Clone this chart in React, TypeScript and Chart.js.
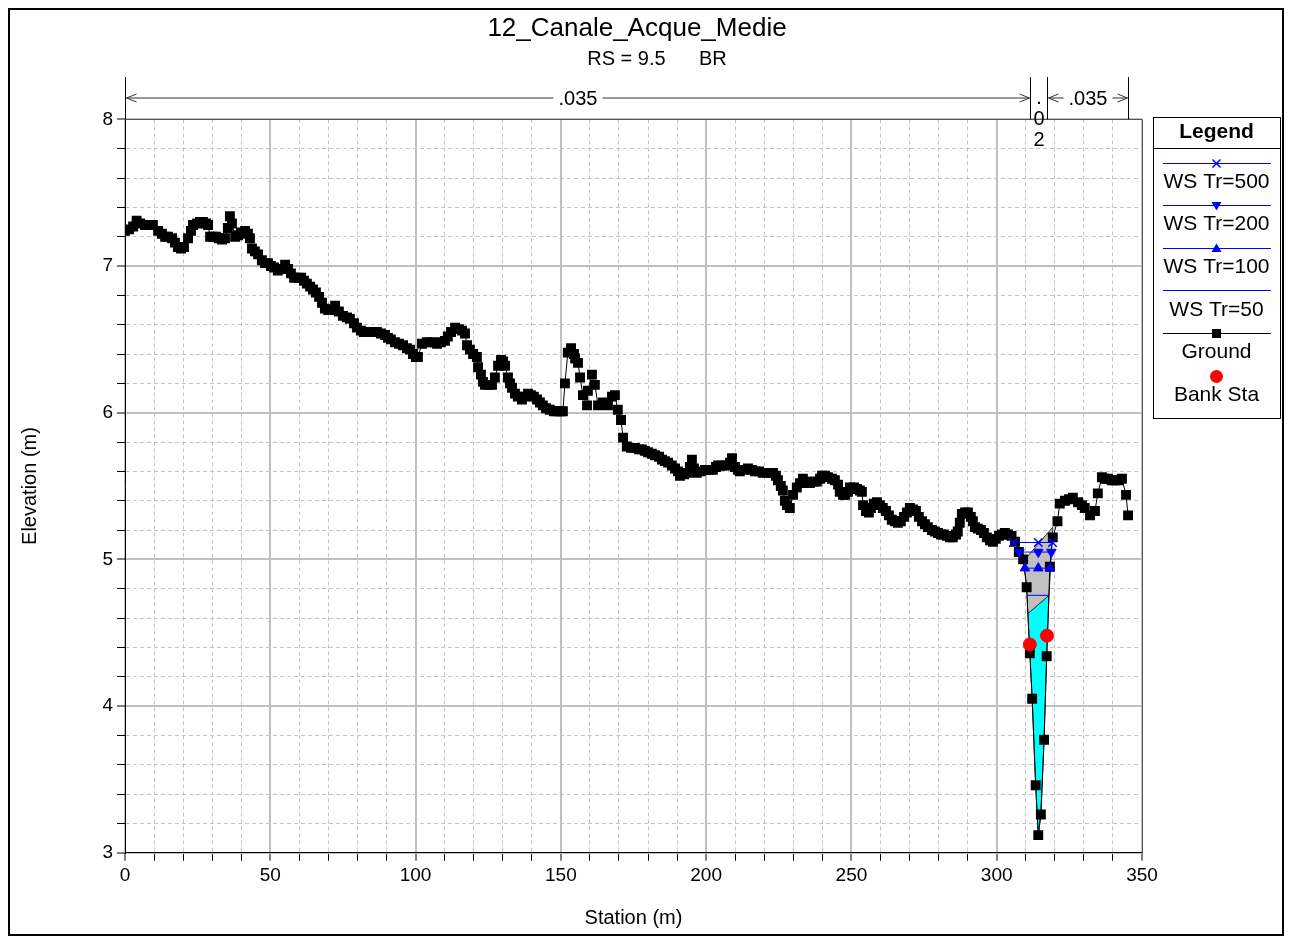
import React, { useEffect, useRef } from 'react';
import { Chart, registerables } from 'chart.js';

Chart.register(...registerables);

const FONT = '"Liberation Sans", Arial, Helvetica, sans-serif';

const chartTitle = '12_Canale_Acque_Medie';
const chartSubtitle = 'RS = 9.5      BR';
const xAxisTitle = 'Station (m)';
const yAxisTitle = 'Elevation (m)';

const xMin = 0;
const xMax = 350;
const xStep = 10;
const xLabelEvery = 50;
const yMin = 3;
const yMax = 8;
const yStep = 0.2;

const groundStation = [
  0, 1.4, 2.8, 4.0, 5.2, 6.9, 8.3, 9.6, 11.4, 12.7, 13.8, 14.8, 16.2, 17.2, 18.2, 19.3, 20.3, 21.7, 22.7, 23.4,
  24.8, 25.8, 26.8, 27.9, 28.6, 29.3, 30.3, 31.3, 32.3, 33.4, 34.4, 35.4, 36.1, 36.8, 37.9, 38.9, 39.9, 41.3, 42.3, 43.0,
  43.7, 44.7, 45.8, 47.1, 48.2, 49.2, 50.2, 51.3, 52.6, 53.7, 55.1, 56.1, 57.1, 58.2, 59.5, 60.6, 61.6, 62.6, 63.7, 64.7,
  65.7, 66.8, 67.8, 68.8, 69.9, 71.2, 72.3, 73.6, 75.0, 76.4, 77.4, 78.8, 79.8, 81.2, 82.2, 83.3, 85.0, 86.7, 88.1, 89.5,
  90.5, 91.5, 92.9, 94.3, 95.7, 97.0, 98.1, 99.1, 100.1, 100.8, 102.2, 103.9, 105.6, 107.4, 108.7, 110.1, 111.1, 112.2, 113.6, 114.9,
  116.0, 117.0, 117.7, 118.7, 119.8, 121.1, 121.5, 122.5, 123.2, 123.9, 125.3, 126.3, 127.3, 128.4, 129.4, 130.1, 130.8, 131.8, 132.5, 133.2,
  134.2, 135.2, 136.6, 137.6, 138.7, 139.7, 140.7, 141.8, 142.8, 143.8, 144.9, 146.2, 147.6, 149.0, 150.0, 150.7, 151.4, 152.4, 153.5, 154.5,
  154.9, 155.9, 156.6, 157.6, 159.0, 159.3, 160.7, 161.7, 162.8, 164.5, 166.2, 167.6, 168.6, 169.6, 170.7, 171.4, 172.7, 174.1, 175.5, 176.9,
  177.9, 178.9, 180.0, 181.3, 182.4, 183.8, 184.8, 185.8, 186.9, 188.2, 189.3, 190.3, 191.0, 192.4, 193.4, 194.4, 195.1, 195.8, 196.8, 198.2,
  199.6, 200.9, 202.3, 203.4, 204.1, 205.4, 207.2, 208.2, 208.9, 209.9, 210.9, 211.6, 213.0, 214.4, 215.8, 216.8, 218.2, 219.5, 220.9, 222.0,
  223.0, 224.0, 224.7, 225.7, 226.4, 227.1, 227.8, 228.8, 229.9, 231.2, 232.3, 233.3, 234.7, 235.7, 237.1, 238.1, 239.2, 239.9, 240.9, 241.9,
  243.3, 244.3, 245.4, 246.0, 247.1, 247.8, 248.8, 249.5, 250.9, 251.9, 252.9, 253.6, 254.0, 255.0, 256.0, 256.7, 257.7, 258.8, 259.8, 260.8,
  261.9, 262.9, 263.9, 265.0, 266.0, 267.0, 268.1, 269.1, 270.1, 271.2, 272.2, 273.2, 274.3, 275.3, 276.3, 277.7, 278.7, 279.8, 280.8, 281.8,
  282.9, 283.9, 284.9, 286.0, 286.6, 287.3, 288.0, 289.1, 290.1, 291.1, 291.8, 292.5, 293.5, 294.6, 295.6, 296.6, 297.7, 298.7, 299.7, 300.8,
  301.8, 302.8, 303.9, 305.1, 306.3, 307.6, 309.1, 310.3, 311.4, 312.2, 313.4, 314.3, 315.2, 316.3, 317.2, 318.3, 319.3, 320.9, 321.7, 323.5,
  324.9, 326.2, 328.0, 329.3, 330.3, 332.1, 333.8, 334.8, 336.2, 337.2, 338.3, 339.6, 340.7, 342.0, 343.1, 344.5, 345.2,
];

const groundElevation = [
  7.24, 7.25, 7.27, 7.31, 7.29, 7.28, 7.28, 7.28, 7.24, 7.22, 7.20, 7.20, 7.19, 7.16, 7.13, 7.12, 7.13, 7.19, 7.24, 7.28,
  7.29, 7.30, 7.30, 7.29, 7.28, 7.20, 7.20, 7.20, 7.19, 7.18, 7.19, 7.26, 7.34, 7.29, 7.20, 7.21, 7.23, 7.24, 7.22, 7.19,
  7.12, 7.10, 7.08, 7.04, 7.02, 7.02, 7.00, 6.99, 6.97, 6.98, 7.01, 6.98, 6.95, 6.92, 6.92, 6.92, 6.90, 6.88, 6.86, 6.84,
  6.82, 6.79, 6.75, 6.71, 6.70, 6.70, 6.73, 6.69, 6.66, 6.65, 6.64, 6.61, 6.58, 6.56, 6.55, 6.55, 6.55, 6.55, 6.54, 6.53,
  6.51, 6.50, 6.48, 6.47, 6.46, 6.44, 6.43, 6.40, 6.38, 6.38, 6.47, 6.48, 6.48, 6.47, 6.48, 6.49, 6.52, 6.55, 6.58, 6.57,
  6.56, 6.54, 6.46, 6.43, 6.40, 6.38, 6.31, 6.26, 6.21, 6.19, 6.19, 6.19, 6.24, 6.32, 6.36, 6.35, 6.32, 6.24, 6.20, 6.17,
  6.13, 6.11, 6.09, 6.11, 6.13, 6.12, 6.11, 6.09, 6.07, 6.05, 6.03, 6.02, 6.01, 6.01, 6.01, 6.01, 6.20, 6.41, 6.44, 6.40,
  6.37, 6.34, 6.24, 6.12, 6.05, 6.15, 6.26, 6.19, 6.05, 6.07, 6.05, 6.11, 6.12, 6.02, 5.95, 5.83, 5.77, 5.76, 5.76, 5.75,
  5.75, 5.74, 5.73, 5.72, 5.71, 5.70, 5.68, 5.67, 5.66, 5.64, 5.62, 5.60, 5.57, 5.58, 5.59, 5.63, 5.68, 5.62, 5.59, 5.60,
  5.61, 5.61, 5.61, 5.63, 5.64, 5.64, 5.64, 5.66, 5.69, 5.63, 5.61, 5.60, 5.61, 5.62, 5.61, 5.60, 5.60, 5.59, 5.59, 5.59,
  5.59, 5.57, 5.54, 5.50, 5.47, 5.40, 5.37, 5.35, 5.44, 5.49, 5.52, 5.55, 5.53, 5.52, 5.53, 5.53, 5.55, 5.57, 5.57, 5.56,
  5.55, 5.54, 5.51, 5.46, 5.44, 5.44, 5.46, 5.49, 5.49, 5.48, 5.47, 5.46, 5.37, 5.33, 5.32, 5.35, 5.38, 5.39, 5.37, 5.35,
  5.33, 5.30, 5.27, 5.26, 5.25, 5.26, 5.29, 5.32, 5.35, 5.34, 5.33, 5.29, 5.26, 5.24, 5.22, 5.20, 5.19, 5.18, 5.17, 5.17,
  5.16, 5.15, 5.15, 5.17, 5.19, 5.25, 5.31, 5.32, 5.32, 5.29, 5.26, 5.22, 5.21, 5.20, 5.18, 5.15, 5.13, 5.12, 5.14, 5.16,
  5.17, 5.18, 5.17, 5.16, 5.12, 5.05, 5.00, 4.81, 4.36, 4.05, 3.46, 3.12, 3.26, 3.77, 4.34, 4.95, 5.15, 5.26, 5.38, 5.40,
  5.41, 5.42, 5.39, 5.37, 5.35, 5.30, 5.33, 5.45, 5.56, 5.55, 5.55, 5.54, 5.54, 5.54, 5.55, 5.44, 5.30,
];

const bankStation = [311.4, 317.3];
const bankElevation = [4.42, 4.48];

const ws500Station = [305.7, 314.3, 319.2];
const ws500Elevation = [5.115, 5.115, 5.115];
const ws200Station = [307.8, 314.3, 318.8];
const ws200Elevation = [5.05, 5.05, 5.05];
const ws100Station = [309.7, 314.3, 318.3];
const ws100Elevation = [4.94, 4.94, 4.94];
const ws50Station = [310.6, 318.0];
const ws50Elevation = [4.755, 4.755];

const grayFillStation = [309.3, 319.3, 318.0, 310.7, 310.3, 309.3];
const grayFillElevation = [4.99, 5.22, 4.755, 4.63, 4.81, 4.99];
const waterFillStation = [310.7, 318.0, 317.2, 316.3, 315.2, 314.3, 313.4, 312.2, 311.4, 310.7];
const waterFillElevation = [4.63, 4.755, 4.34, 3.77, 3.26, 3.12, 3.46, 4.05, 4.36, 4.63];

const nValueStations = [0, 311.4, 317.3, 345.3];
const nValueLabels = ['.035', '.02', '.035'];

const legendLabels = ['WS Tr=500', 'WS Tr=200', 'WS Tr=100', 'WS Tr=50', 'Ground', 'Bank Sta'];

const toPoints = (xs: number[], ys: number[]) => xs.map((x, i) => ({ x, y: ys[i] }));

const CANVAS_W = 1276;
const CANVAS_H = 928;
const AREA_LEFT = 117;
const AREA_TOP = 111.4;
const AREA_RIGHT = 1134;
const AREA_BOTTOM = 844.7;

const isMultiple = (v: number, m: number) => Math.abs(v / m - Math.round(v / m)) < 1e-6;

function drawChevron(ctx: CanvasRenderingContext2D, x: number, y: number, dir: number) {
  ctx.beginPath();
  ctx.moveTo(x - dir * 10, y - 4);
  ctx.lineTo(x, y);
  ctx.lineTo(x - dir * 10, y + 4);
  ctx.stroke();
}

function drawMarker(ctx: CanvasRenderingContext2D, kind: string, x: number, y: number) {
  ctx.save();
  if (kind === 'x') {
    ctx.strokeStyle = '#0000ff';
    ctx.lineWidth = 1.5;
    ctx.beginPath();
    ctx.moveTo(x - 4, y - 4);
    ctx.lineTo(x + 4, y + 4);
    ctx.moveTo(x + 4, y - 4);
    ctx.lineTo(x - 4, y + 4);
    ctx.stroke();
  } else if (kind === 'down') {
    ctx.fillStyle = '#0000ff';
    ctx.beginPath();
    ctx.moveTo(x - 5, y - 3.5);
    ctx.lineTo(x + 5, y - 3.5);
    ctx.lineTo(x, y + 5);
    ctx.closePath();
    ctx.fill();
  } else if (kind === 'up') {
    ctx.fillStyle = '#0000ff';
    ctx.beginPath();
    ctx.moveTo(x - 5, y + 3.5);
    ctx.lineTo(x + 5, y + 3.5);
    ctx.lineTo(x, y - 5);
    ctx.closePath();
    ctx.fill();
  } else if (kind === 'rect') {
    ctx.fillStyle = '#000';
    ctx.fillRect(x - 4.5, y - 4.5, 9, 9);
  } else if (kind === 'circle') {
    ctx.fillStyle = '#ff0000';
    ctx.beginPath();
    ctx.arc(x, y, 6.5, 0, Math.PI * 2);
    ctx.fill();
  }
  ctx.restore();
}

const decorPlugin = {
  id: 'decor',
  afterDraw(chart: any) {
    const ctx: CanvasRenderingContext2D = chart.ctx;
    const xs = chart.scales.x;
    const { left, right, top, bottom } = chart.chartArea;
    ctx.save();

    // plot frame (top / right)
    ctx.strokeStyle = '#555';
    ctx.lineWidth = 1;
    ctx.beginPath();
    ctx.moveTo(left, Math.round(top) + 0.5);
    ctx.lineTo(Math.round(right) + 0.5, Math.round(top) + 0.5);
    ctx.lineTo(Math.round(right) + 0.5, bottom);
    ctx.stroke();

    // outer border
    ctx.strokeStyle = '#000';
    ctx.lineWidth = 2;
    ctx.strokeRect(1, 1, chart.width - 2, chart.height - 2);

    // title + subtitle
    ctx.fillStyle = '#000';
    ctx.textAlign = 'center';
    ctx.textBaseline = 'middle';
    ctx.font = `26px ${FONT}`;
    ctx.fillText(chartTitle, 629, 21);
    ctx.font = `20px ${FONT}`;
    ctx.fillText(chartSubtitle, 649, 51);

    // n-value annotation
    const lineY = 90;
    const px = nValueStations.map((s) => Math.round(xs.getPixelForValue(s)) + 0.5);
    ctx.strokeStyle = '#000';
    ctx.lineWidth = 1;
    ctx.beginPath();
    px.forEach((p) => {
      ctx.moveTo(p, 69);
      ctx.lineTo(p, top);
    });
    ctx.stroke();
    ctx.font = `20px ${FONT}`;
    ctx.strokeStyle = '#333';
    for (let i = 0; i < nValueLabels.length; i++) {
      const a = px[i];
      const b = px[i + 1];
      const label = nValueLabels[i];
      const w = ctx.measureText(label).width;
      const mid = (a + b) / 2;
      if (b - a > w + 40) {
        ctx.fillText(label, mid, lineY + 1);
        ctx.beginPath();
        ctx.moveTo(a + 1, lineY);
        ctx.lineTo(mid - w / 2 - 5, lineY);
        ctx.moveTo(mid + w / 2 + 5, lineY);
        ctx.lineTo(b - 1, lineY);
        ctx.stroke();
        drawChevron(ctx, a + 1, lineY, -1);
        drawChevron(ctx, b - 1, lineY, 1);
      } else {
        const chars = label.split('');
        chars.forEach((c, k) => {
          ctx.fillText(c, mid, lineY + k * 21);
        });
      }
    }

    // legend
    const lx = 1145;
    const ly = 109;
    const lw = 127;
    const lh = 301;
    ctx.fillStyle = '#fff';
    ctx.fillRect(lx, ly, lw, lh);
    ctx.strokeStyle = '#000';
    ctx.lineWidth = 1;
    ctx.strokeRect(lx + 0.5, ly + 0.5, lw, lh);
    ctx.beginPath();
    ctx.moveTo(lx, ly + 31.5);
    ctx.lineTo(lx + lw, ly + 31.5);
    ctx.stroke();
    ctx.fillStyle = '#000';
    ctx.font = `bold 21px ${FONT}`;
    ctx.fillText('Legend', lx + lw / 2, ly + 15);
    ctx.font = `21px ${FONT}`;
    const cx = lx + lw / 2;
    const items = [
      { color: '#0000ff', marker: 'x', line: true },
      { color: '#0000ff', marker: 'down', line: true },
      { color: '#0000ff', marker: 'up', line: true },
      { color: '#0000ff', marker: '', line: true },
      { color: '#000000', marker: 'rect', line: true },
      { color: '', marker: 'circle', line: false },
    ];
    items.forEach((it, k) => {
      const y0 = ly + 45.5 + k * 42.6;
      if (it.line) {
        ctx.strokeStyle = it.color;
        ctx.lineWidth = 1;
        ctx.beginPath();
        ctx.moveTo(lx + 10, Math.round(y0) + 0.5);
        ctx.lineTo(lx + lw - 9, Math.round(y0) + 0.5);
        ctx.stroke();
      }
      if (it.marker) drawMarker(ctx, it.marker, cx, Math.round(y0) + 0.5);
      ctx.fillStyle = '#000';
      ctx.fillText(legendLabels[k], cx, y0 + 19.5);
    });

    ctx.restore();
  },
};

export default function App() {
  const ref = useRef<HTMLCanvasElement | null>(null);

  useEffect(() => {
    if (!ref.current) return;
    const blue = '#0000ff';
    const chart = new Chart(ref.current, {
      type: 'line',
      data: {
        datasets: [
          {
            label: legendLabels[5],
            data: toPoints(bankStation, bankElevation),
            showLine: false,
            pointStyle: 'circle',
            pointRadius: 6.5,
            pointBackgroundColor: '#ff0000',
            pointBorderColor: '#ff0000',
            borderColor: '#ff0000',
            order: 0,
          },
          {
            label: legendLabels[0],
            data: toPoints(ws500Station, ws500Elevation),
            borderColor: blue,
            borderWidth: 1,
            pointStyle: 'crossRot',
            pointRadius: 6,
            pointBorderColor: blue,
            pointBorderWidth: 1.5,
            order: 1,
          },
          {
            label: legendLabels[1],
            data: toPoints(ws200Station, ws200Elevation),
            borderColor: blue,
            borderWidth: 1,
            pointStyle: 'triangle',
            pointRotation: 180,
            pointRadius: 5.5,
            pointBackgroundColor: blue,
            pointBorderColor: blue,
            order: 1,
          },
          {
            label: legendLabels[2],
            data: toPoints(ws100Station, ws100Elevation),
            borderColor: blue,
            borderWidth: 1,
            pointStyle: 'triangle',
            pointRadius: 5.5,
            pointBackgroundColor: blue,
            pointBorderColor: blue,
            order: 1,
          },
          {
            label: legendLabels[3],
            data: toPoints(ws50Station, ws50Elevation),
            borderColor: blue,
            borderWidth: 1,
            pointRadius: 0,
            order: 1,
          },
          {
            label: legendLabels[4],
            data: toPoints(groundStation, groundElevation),
            borderColor: '#000',
            borderWidth: 1,
            pointStyle: 'rect',
            pointRadius: 7,
            pointBackgroundColor: '#000',
            pointBorderColor: '#000',
            pointBorderWidth: 0,
            order: 2,
          },
          {
            label: 'ineffective',
            data: toPoints(grayFillStation, grayFillElevation),
            borderColor: '#333',
            borderWidth: 1,
            backgroundColor: '#c0c0c0',
            fill: 'shape',
            pointRadius: 0,
            order: 3,
          },
          {
            label: 'water',
            data: toPoints(waterFillStation, waterFillElevation),
            borderColor: '#333',
            borderWidth: 1,
            backgroundColor: '#00ffff',
            fill: 'shape',
            pointRadius: 0,
            order: 3,
          },
        ],
      },
      options: {
        animation: false,
        responsive: false,
        devicePixelRatio: 1,
        layout: { padding: { left: 0, top: AREA_TOP, right: CANVAS_W - AREA_RIGHT, bottom: 0 } },
        plugins: {
          legend: { display: false },
          tooltip: { enabled: false },
          title: { display: false },
        },
        elements: { line: { tension: 0 } },
        scales: {
          x: {
            type: 'linear',
            min: xMin,
            max: xMax,
            afterFit: (s: any) => {
              s.height = CANVAS_H - AREA_BOTTOM;
            },
            ticks: {
              stepSize: xStep,
              autoSkip: false,
              maxRotation: 0,
              padding: 4,
              color: '#000',
              font: { family: FONT, size: 19 },
              callback: (v: any) => (isMultiple(Number(v), xLabelEvery) ? String(Math.round(Number(v))) : ''),
            },
            grid: {
              color: (c: any) => (c.tick && isMultiple(c.tick.value, xLabelEvery) ? '#c0c0c0' : '#c4c4c4'),
              lineWidth: (c: any) => (c.tick && isMultiple(c.tick.value, xLabelEvery) ? 2 : 1),
              tickColor: '#000',
              tickLength: 8,
              tickWidth: 1,
            },
            border: {
              display: true,
              color: '#000',
              width: 1,
              dash: (c: any) => (c.tick && isMultiple(c.tick.value, xLabelEvery) ? [] : [4, 3]),
            },
            title: {
              display: true,
              text: xAxisTitle,
              color: '#000',
              font: { family: FONT, size: 20 },
              padding: { top: 4, bottom: 6 },
            },
          },
          y: {
            type: 'linear',
            min: yMin,
            max: yMax,
            afterFit: (s: any) => {
              s.width = AREA_LEFT;
            },
            ticks: {
              stepSize: yStep,
              autoSkip: false,
              padding: 4,
              color: '#000',
              font: { family: FONT, size: 19 },
              callback: (v: any) => (isMultiple(Number(v), 1) ? String(Math.round(Number(v))) : ''),
            },
            grid: {
              color: (c: any) => (c.tick && isMultiple(c.tick.value, 1) ? '#c0c0c0' : '#c4c4c4'),
              lineWidth: (c: any) => (c.tick && isMultiple(c.tick.value, 1) ? 2 : 1),
              tickColor: '#000',
              tickLength: 8,
              tickWidth: 1,
            },
            border: {
              display: true,
              color: '#000',
              width: 1,
              dash: (c: any) => (c.tick && isMultiple(c.tick.value, 1) ? [] : [4, 3]),
            },
            title: {
              display: true,
              text: yAxisTitle,
              color: '#000',
              font: { family: FONT, size: 20 },
              padding: { top: 10, bottom: 4 },
            },
          },
        },
      },
      plugins: [decorPlugin],
    } as any);
    return () => chart.destroy();
  }, []);

  return (
    <div style={{ width: CANVAS_W, height: CANVAS_H }}>
      <canvas ref={ref} width={CANVAS_W} height={CANVAS_H} style={{ display: 'block', width: CANVAS_W, height: CANVAS_H }} />
    </div>
  );
}
